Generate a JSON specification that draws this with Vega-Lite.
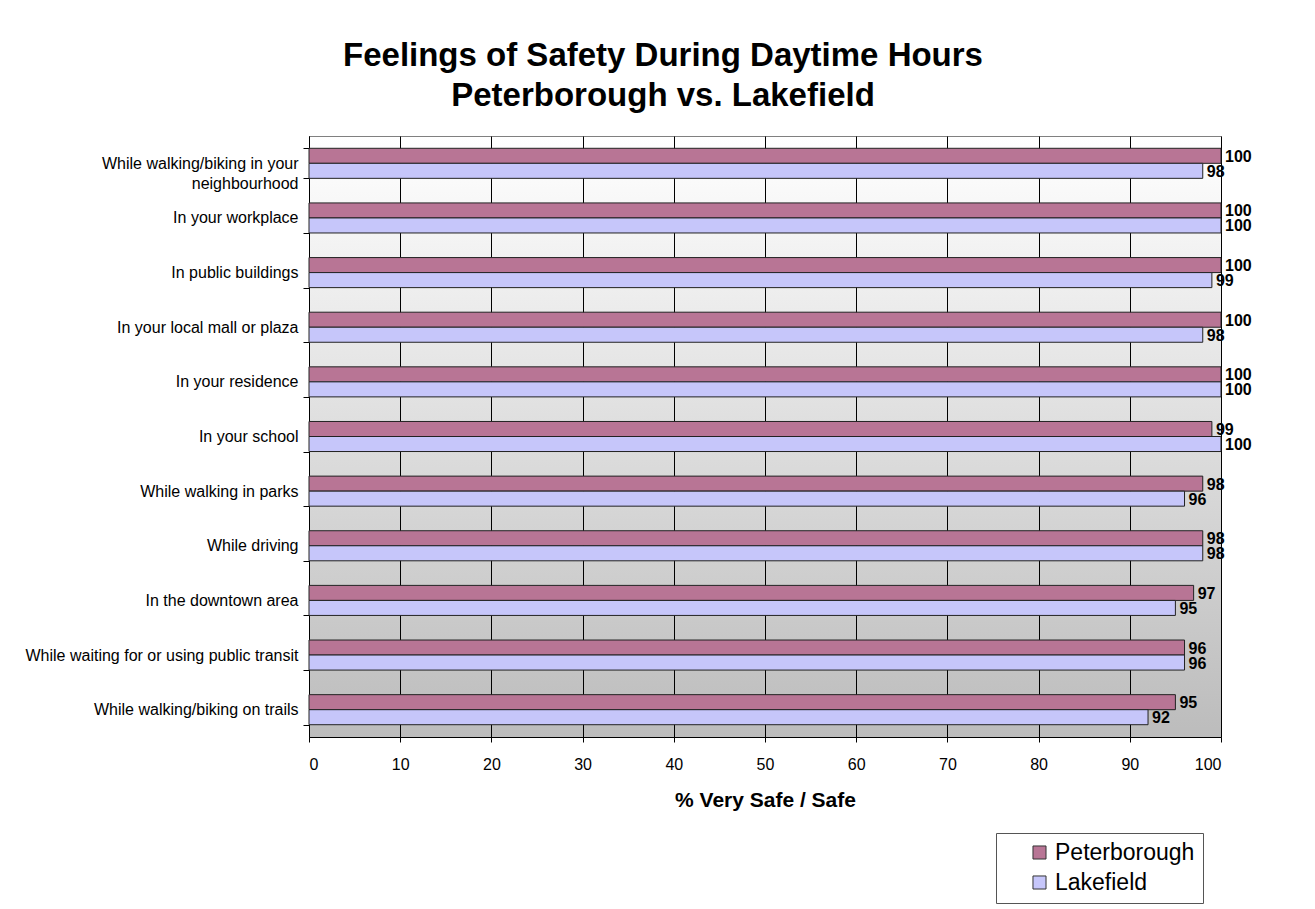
{
  "$schema": "https://vega.github.io/schema/vega-lite/v6.json",
  "autosize": {"type": "none"},
  "padding": {"left": 309, "top": 136, "right": 94, "bottom": 172},
  "width": 912,
  "height": 601,
  "background": "#ffffff",
  "title": {
    "text": ["Feelings of Safety During Daytime Hours", "Peterborough vs. Lakefield"],
    "font": "Liberation Sans",
    "fontSize": 33,
    "fontWeight": "bold",
    "color": "#000000",
    "anchor": "middle",
    "frame": "group",
    "dx": -102,
    "offset": 15,
    "lineHeight": 40
  },
  "data": {
    "values": [
      {"place": "While walking/biking in your neighbourhood", "city": "Peterborough", "pct": 100},
      {"place": "While walking/biking in your neighbourhood", "city": "Lakefield", "pct": 98},
      {"place": "In your workplace", "city": "Peterborough", "pct": 100},
      {"place": "In your workplace", "city": "Lakefield", "pct": 100},
      {"place": "In public buildings", "city": "Peterborough", "pct": 100},
      {"place": "In public buildings", "city": "Lakefield", "pct": 99},
      {"place": "In your local mall or plaza", "city": "Peterborough", "pct": 100},
      {"place": "In your local mall or plaza", "city": "Lakefield", "pct": 98},
      {"place": "In your residence", "city": "Peterborough", "pct": 100},
      {"place": "In your residence", "city": "Lakefield", "pct": 100},
      {"place": "In your school", "city": "Peterborough", "pct": 99},
      {"place": "In your school", "city": "Lakefield", "pct": 100},
      {"place": "While walking in parks", "city": "Peterborough", "pct": 98},
      {"place": "While walking in parks", "city": "Lakefield", "pct": 96},
      {"place": "While driving", "city": "Peterborough", "pct": 98},
      {"place": "While driving", "city": "Lakefield", "pct": 98},
      {"place": "In the downtown area", "city": "Peterborough", "pct": 97},
      {"place": "In the downtown area", "city": "Lakefield", "pct": 95},
      {"place": "While waiting for or using public transit", "city": "Peterborough", "pct": 96},
      {"place": "While waiting for or using public transit", "city": "Lakefield", "pct": 96},
      {"place": "While walking/biking on trails", "city": "Peterborough", "pct": 95},
      {"place": "While walking/biking on trails", "city": "Lakefield", "pct": 92}
    ]
  },
  "encoding": {
    "y": {
      "field": "place",
      "type": "nominal",
      "sort": null,
      "title": null,
      "scale": {"paddingInner": 0.45, "paddingOuter": 0.225},
      "axis": {
        "labelFont": "Liberation Sans",
        "labelFontSize": 16,
        "labelColor": "#000000",
        "labelPadding": 5,
        "labelLimit": 400,
        "labelLineHeight": 20,
        "labelExpr": "datum.value == 'While walking/biking in your neighbourhood' ? ['While walking/biking in your', 'neighbourhood'] : datum.label",
        "tickBand": "extent",
        "tickSize": 6,
        "tickColor": "#000000",
        "domainColor": "#000000",
        "grid": false
      }
    },
    "yOffset": {"field": "city", "type": "nominal", "sort": ["Peterborough", "Lakefield"]},
    "x": {
      "field": "pct",
      "type": "quantitative",
      "title": "% Very Safe / Safe",
      "scale": {"domain": [0, 100], "nice": false},
      "axis": {
        "values": [0, 10, 20, 30, 40, 50, 60, 70, 80, 90, 100],
        "labelFont": "Liberation Sans",
        "labelFontSize": 16,
        "labelColor": "#000000",
        "labelPadding": 14,
        "tickSize": 5,
        "tickColor": "#000000",
        "domainColor": "#000000",
        "grid": true,
        "gridColor": "#000000",
        "gridWidth": 1,
        "titleFont": "Liberation Sans",
        "titleFontSize": 21,
        "titleFontWeight": "bold",
        "titleColor": "#000000",
        "titlePadding": 17
      }
    }
  },
  "layer": [
    {
      "mark": {"type": "bar", "stroke": "#222222", "strokeWidth": 1},
      "encoding": {
        "color": {
          "field": "city",
          "type": "nominal",
          "sort": ["Peterborough", "Lakefield"],
          "scale": {"domain": ["Peterborough", "Lakefield"], "range": ["#B87595", "#C6C6FA"]},
          "legend": {
            "title": null,
            "orient": "none",
            "legendX": 687,
            "legendY": 697,
            "padding": 8,
            "strokeColor": "#555555",
            "fillColor": "#ffffff",
            "symbolType": "square",
            "symbolSize": 170,
            "symbolStrokeColor": "#333333",
            "symbolStrokeWidth": 1,
            "symbolOffset": 24,
            "labelFont": "Liberation Sans",
            "labelFontSize": 23,
            "labelColor": "#000000",
            "labelOffset": 4,
            "rowPadding": 6
          }
        }
      }
    },
    {
      "mark": {
        "type": "text",
        "align": "left",
        "baseline": "middle",
        "dx": 4,
        "dy": 1,
        "font": "Liberation Sans",
        "fontSize": 16,
        "fontWeight": "bold",
        "color": "#000000"
      },
      "encoding": {"text": {"field": "pct", "type": "quantitative"}}
    }
  ],
  "config": {
    "view": {
      "stroke": "#808080",
      "fill": {
        "gradient": "linear",
        "x1": 0, "y1": 0, "x2": 0, "y2": 1,
        "stops": [
          {"offset": 0, "color": "#ffffff"},
          {"offset": 1, "color": "#bcbcbc"}
        ]
      }
    }
  }
}
